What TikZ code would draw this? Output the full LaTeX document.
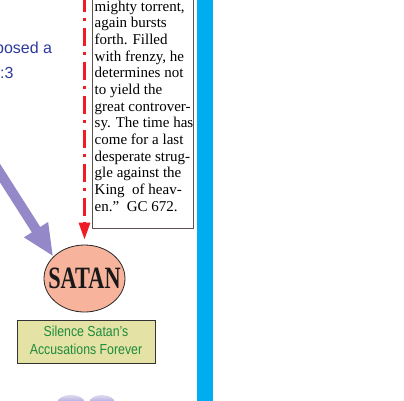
\documentclass[tikz,border=0pt]{standalone}
\usepackage{fontspec}
\setmainfont{Liberation Serif}
\setsansfont{Liberation Sans}
\usetikzlibrary{shapes.geometric,arrows.meta}
\definecolor{barblue}{HTML}{00AEEF}
\definecolor{dashred}{HTML}{EE1C25}
\definecolor{lav}{HTML}{9488C8}
\definecolor{salmon}{HTML}{F7B39C}
\definecolor{khaki}{HTML}{E5E2A6}
\definecolor{leafgreen}{HTML}{1E8B3C}
\definecolor{textblue}{HTML}{2E3A9A}
\definecolor{boxgrey}{HTML}{5A5252}
\begin{document}
\begin{tikzpicture}[x=1pt,y=-1pt,
  quotebox/.style={draw=boxgrey,line width=1pt,fill=white,inner sep=0pt},
  quoteline/.style={anchor=base west,inner sep=0pt,font=\fontsize{15}{16.67}\selectfont},
  satanell/.style={ellipse,draw=black!85,line width=0.8pt,fill=salmon,minimum width=81pt,minimum height=67pt,inner sep=0pt},
  greenbox/.style={draw=black!80,line width=1pt,fill=khaki,minimum width=138pt,minimum height=43pt,inner sep=0pt,text=leafgreen,font=\sffamily\fontsize{14.5}{18}\selectfont},
  reddash/.style={draw=dashred,line width=3pt,dash pattern=on 18pt off 6pt on 3pt off 7pt,dash phase=4pt,-{Triangle[length=17pt,width=11pt]}},
  purplearrow/.style={draw=lav,line width=10pt,-{Triangle[length=32pt,width=26pt]}},
  bluetext/.style={anchor=base west,inner sep=0pt,text=textblue,font=\sffamily\fontsize{16}{19}\selectfont}
]
\useasboundingbox (0,0) rectangle (404,400);
\clip (0,0) rectangle (404,400);
% blue bar
\fill[barblue] (196.7,-1) rectangle (213.3,401);
% quote box
\node[quotebox,anchor=north west,minimum width=101pt,minimum height=250pt] (quote) at (92,-22) {};
\foreach \t [count=\i] in {{mighty torrent,},{again bursts},{forth. Filled},{with frenzy, he},{determines not},{to yield the},{great controver-},{sy. The time has},{come for a last},{desperate strug-},{gle against the},{King\ \ of heav-},{en.”\ \ GC 672.}}{
  \node[quoteline] (q\i) at (94.5,{11+16.67*(\i-1)}) {\t};
}
% left text
\node[bluetext] (opp) at (-5,53) {posed a};
\node[bluetext] (ref) at (0,78) {:3};
% satan
\node[satanell] (satan) at (84.5,278.5) {\makebox[0pt]{\scalebox{0.72}[1]{\fontsize{31}{31}\selectfont\bfseries\color{black!90}SATAN}}};
% green box
\node[greenbox] (silence) at (86,341.5) {\scalebox{0.85}[1]{\begin{tabular}{@{}c@{}}Silence Satan’s\\Accusations Forever\end{tabular}}};
% red dash-dot arrow
\coordinate (rtop) at (satan.north |- 0,-2);
\draw[reddash] (rtop) -- ([yshift=5pt]satan.north);
% purple arrow
\coordinate (pstart) at (-16,148);
\draw[purplearrow] (pstart) -- (satan.145);
% partial shapes at bottom
\shade[top color=white!70!lav,bottom color=lav!80!blue] (71,403) ellipse [x radius=14, y radius=8];
\shade[top color=white!70!lav,bottom color=lav!80!blue] (102,403) ellipse [x radius=13, y radius=8];
\end{tikzpicture}
\end{document}
